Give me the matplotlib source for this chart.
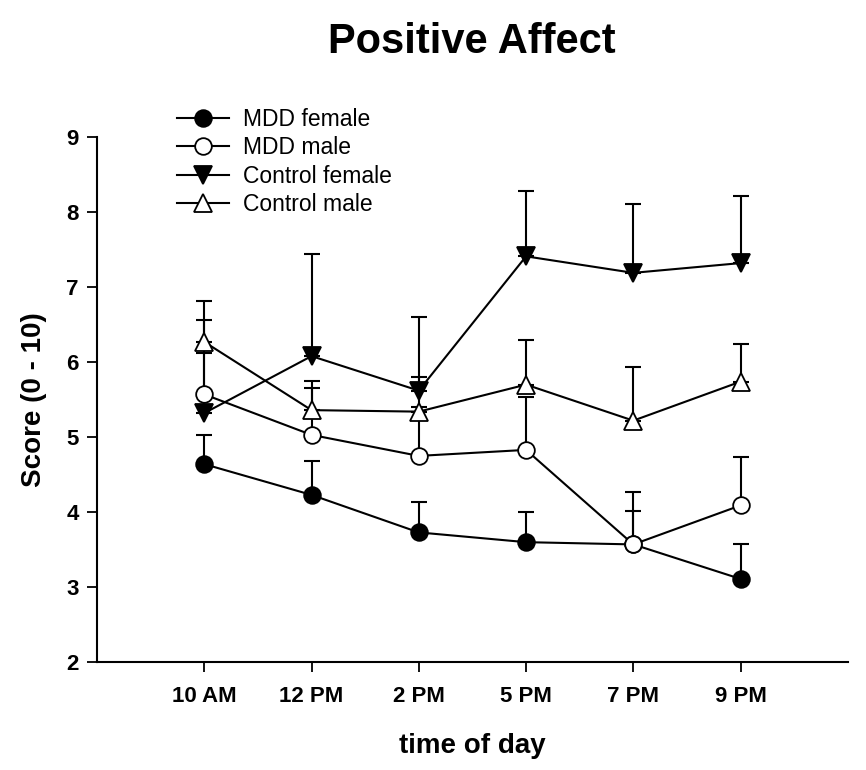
import matplotlib
matplotlib.use('Agg')
import matplotlib.pyplot as plt

plt.rcParams['font.family'] = ['Liberation Sans', 'DejaVu Sans']

# time points and group means
times = ['10 AM', '12 PM', '2 PM', '5 PM', '7 PM', '9 PM']
mdd_female = [4.64, 4.23, 3.73, 3.60, 3.57, 3.11]
mdd_female_se = [0.39, 0.45, 0.40, 0.40, 0.44, 0.47]
mdd_male = [5.57, 5.03, 4.75, 4.83, 3.57, 4.09]
mdd_male_se = [0.55, 0.72, 0.65, 0.70, 0.70, 0.64]
ctrl_female = [5.32, 6.08, 5.62, 7.41, 7.19, 7.32]
ctrl_female_se = [1.24, 1.36, 0.98, 0.87, 0.92, 0.90]
ctrl_male = [6.27, 5.36, 5.34, 5.70, 5.22, 5.74]
ctrl_male_se = [0.54, 0.30, 0.46, 0.60, 0.72, 0.50]

x = list(range(1, len(times) + 1))

fig = plt.figure(figsize=(8.66, 7.7), dpi=100)
ax = fig.add_axes([0.112, 0.140, 0.867, 0.682])

series = [
    ('MDD female', mdd_female, mdd_female_se, 'o', 'black', 12),
    ('MDD male', mdd_male, mdd_male_se, 'o', 'white', 12),
    ('Control female', ctrl_female, ctrl_female_se, 'v', 'black', 13),
    ('Control male', ctrl_male, ctrl_male_se, '^', 'white', 13),
]

handles = []
for label, vals, se, mk, fc, ms in series:
    # only upper error bars, like the original
    ax.errorbar(x, vals, yerr=[[0] * len(se), se], fmt='none', ecolor='black',
                elinewidth=1.5, capsize=6, capthick=1.5, zorder=2)
    h, = ax.plot(x, vals, color='black', lw=1.5, marker=mk, markersize=ms,
                 markerfacecolor=fc, markeredgecolor='black', markeredgewidth=1.3,
                 label=label, zorder=3)
    handles.append(h)

ax.set_xlim(0, 7)
ax.set_ylim(2, 9)
ax.set_xticks(x)
ax.set_xticklabels(times, fontsize=16, fontweight='bold')
ax.set_yticks(range(2, 10))
ax.set_yticklabels([str(v) for v in range(2, 10)], fontsize=16, fontweight='bold')
ax.tick_params(axis='x', length=7, width=1.3, pad=10)
ax.tick_params(axis='y', length=7, width=1.3, pad=6)

for side in ['top', 'right']:
    ax.spines[side].set_visible(False)
for side in ['left', 'bottom']:
    ax.spines[side].set_linewidth(1.5)

ax.set_xlabel('time of day', fontsize=20, fontweight='bold', labelpad=19)
ax.set_ylabel('Score (0 - 10)', fontsize=20, fontweight='bold', labelpad=14)

fig.text(0.545, 0.946, 'Positive Affect', fontsize=30, fontweight='bold',
         ha='center', va='center')

fig.legend(handles=handles, loc='upper left', bbox_to_anchor=(0.204, 0.860),
           frameon=False, fontsize=16.5, handlelength=2.3, handletextpad=0.6,
           labelspacing=0.24, borderpad=0, borderaxespad=0)

fig.savefig('out.png', dpi=100)
